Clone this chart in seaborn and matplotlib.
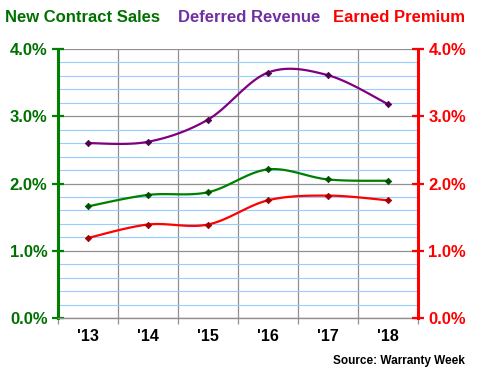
import numpy as np
import pandas as pd
import matplotlib
matplotlib.use("Agg")
import matplotlib.pyplot as plt
from matplotlib.ticker import MultipleLocator, FuncFormatter, FixedLocator
import seaborn as sns

# ----------------------------------------------------------------------
# Data (% of revenue)
# ----------------------------------------------------------------------
years = ["'13", "'14", "'15", "'16", "'17", "'18"]
new_contract_sales = [1.66, 1.83, 1.87, 2.21, 2.06, 2.04]
deferred_revenue = [2.60, 2.62, 2.95, 3.65, 3.61, 3.18]
earned_premium = [1.19, 1.39, 1.39, 1.75, 1.82, 1.75]

GREEN, GREEN_TXT, GREEN_MK = "#008000", "#007000", "#005000"
PURPLE, PURPLE_TXT, PURPLE_MK = "#800080", "#7030A0", "#500050"
RED, RED_MK = "#FF0000", "#A00000"

sns.set_theme(style="white")
plt.rcParams["font.family"] = ["Liberation Sans", "DejaVu Sans"]
plt.rcParams["font.weight"] = "bold"


def smooth(x, y, n=20):
    """Catmull-Rom style smoothing, like Excel's 'smoothed line'."""
    x, y = np.asarray(x, float), np.asarray(y, float)
    px = np.concatenate([[x[0]], x, [x[-1]]])
    py = np.concatenate([[y[0]], y, [y[-1]]])
    xs, ys = [], []
    for i in range(1, len(px) - 2):
        t = np.linspace(0, 1, n)
        c1x = px[i] + (px[i + 1] - px[i - 1]) / 6
        c1y = py[i] + (py[i + 1] - py[i - 1]) / 6
        c2x = px[i + 1] - (px[i + 2] - px[i]) / 6
        c2y = py[i + 1] - (py[i + 2] - py[i]) / 6
        b = [(1 - t) ** 3, 3 * (1 - t) ** 2 * t, 3 * (1 - t) * t ** 2, t ** 3]
        xs.append(b[0] * px[i] + b[1] * c1x + b[2] * c2x + b[3] * px[i + 1])
        ys.append(b[0] * py[i] + b[1] * c1y + b[2] * c2y + b[3] * py[i + 1])
    return np.concatenate(xs), np.concatenate(ys)


df = pd.DataFrame({"pos": np.arange(len(years)), "Year": years,
                   "New Contract Sales": new_contract_sales,
                   "Deferred Revenue": deferred_revenue,
                   "Earned Premium": earned_premium})

fig = plt.figure(figsize=(4.8, 3.8), dpi=100)
ax = fig.add_axes([58 / 480, 1 - 318 / 380, 360 / 480, 269 / 380])

series = [("New Contract Sales", GREEN, GREEN_MK),
          ("Deferred Revenue", PURPLE, PURPLE_MK),
          ("Earned Premium", RED, RED_MK)]
for name, col, mk in series:
    sx, sy = smooth(df["pos"], df[name])
    ax.plot(sx, sy, color=col, lw=1.6, zorder=3, solid_capstyle="round")
    sns.scatterplot(data=df, x="pos", y=name, ax=ax, marker="D", s=11,
                    color=mk, edgecolor=mk, linewidth=0.5, zorder=4, legend=False)

ax.set_xlim(-0.5, len(years) - 0.5)
ax.set_ylim(0, 4)

# grid: light blue minor every 0.2%, gray major every 1%, gray category borders
ax.yaxis.set_major_locator(MultipleLocator(1))
ax.yaxis.set_minor_locator(MultipleLocator(0.2))
ax.grid(which="minor", axis="y", color="#99CCFF", lw=0.8, zorder=0)
ax.grid(which="major", axis="y", color="#909090", lw=0.9, zorder=1)
ax.set_xticks(df["pos"])
ax.set_xticklabels(years)
ax.xaxis.set_minor_locator(FixedLocator(np.arange(-0.5, len(years), 1.0)))
ax.grid(which="minor", axis="x", color="#909090", lw=0.9, zorder=1)
ax.set_axisbelow(True)

pct = FuncFormatter(lambda v, _: f"{v:.1f}%")
ax.yaxis.set_major_formatter(pct)
ax.tick_params(axis="y", which="major", direction="inout", length=9, width=1.6,
               color=GREEN, labelcolor=GREEN_TXT, labelsize=12, pad=3)
ax.tick_params(axis="y", which="minor", length=0)
ax.tick_params(axis="x", which="major", length=0, labelsize=11.5, pad=8,
               labelcolor="black")
ax.tick_params(axis="x", which="minor", direction="out", length=4, width=0.9,
               color="#909090", bottom=True)
ax.set_xlabel("")
ax.set_ylabel("")

ax.spines["top"].set_visible(False)
ax.spines["left"].set_color(GREEN)
ax.spines["left"].set_linewidth(2.2)
ax.spines["bottom"].set_color("#909090")
ax.spines["bottom"].set_linewidth(1.0)
ax.spines["right"].set_visible(False)

# right axis (same scale)
ax2 = ax.twinx()
ax2.set_ylim(ax.get_ylim())
ax2.yaxis.set_major_locator(MultipleLocator(1))
ax2.yaxis.set_major_formatter(pct)
ax2.tick_params(axis="y", direction="inout", length=9, width=1.6, color=RED,
                labelcolor=RED, labelsize=12, pad=3)
for s in ["top", "left", "bottom"]:
    ax2.spines[s].set_visible(False)
ax2.spines["right"].set_color(RED)
ax2.spines["right"].set_linewidth(2.2)
ax2.grid(False)

# header "legend"
fig.text(5 / 480, 1 - 18 / 380, "New Contract Sales", color=GREEN_TXT,
         fontsize=12, fontweight="bold", va="center", ha="left")
fig.text(178 / 480, 1 - 18 / 380, "Deferred Revenue", color=PURPLE_TXT,
         fontsize=12, fontweight="bold", va="center", ha="left")
fig.text(333 / 480, 1 - 18 / 380, "Earned Premium", color=RED,
         fontsize=12, fontweight="bold", va="center", ha="left")
fig.text(465 / 480, 1 - 361 / 380, "Source: Warranty Week", color="black",
         fontsize=8.5, fontweight="bold", va="center", ha="right")

fig.savefig("out.png", dpi=100)
